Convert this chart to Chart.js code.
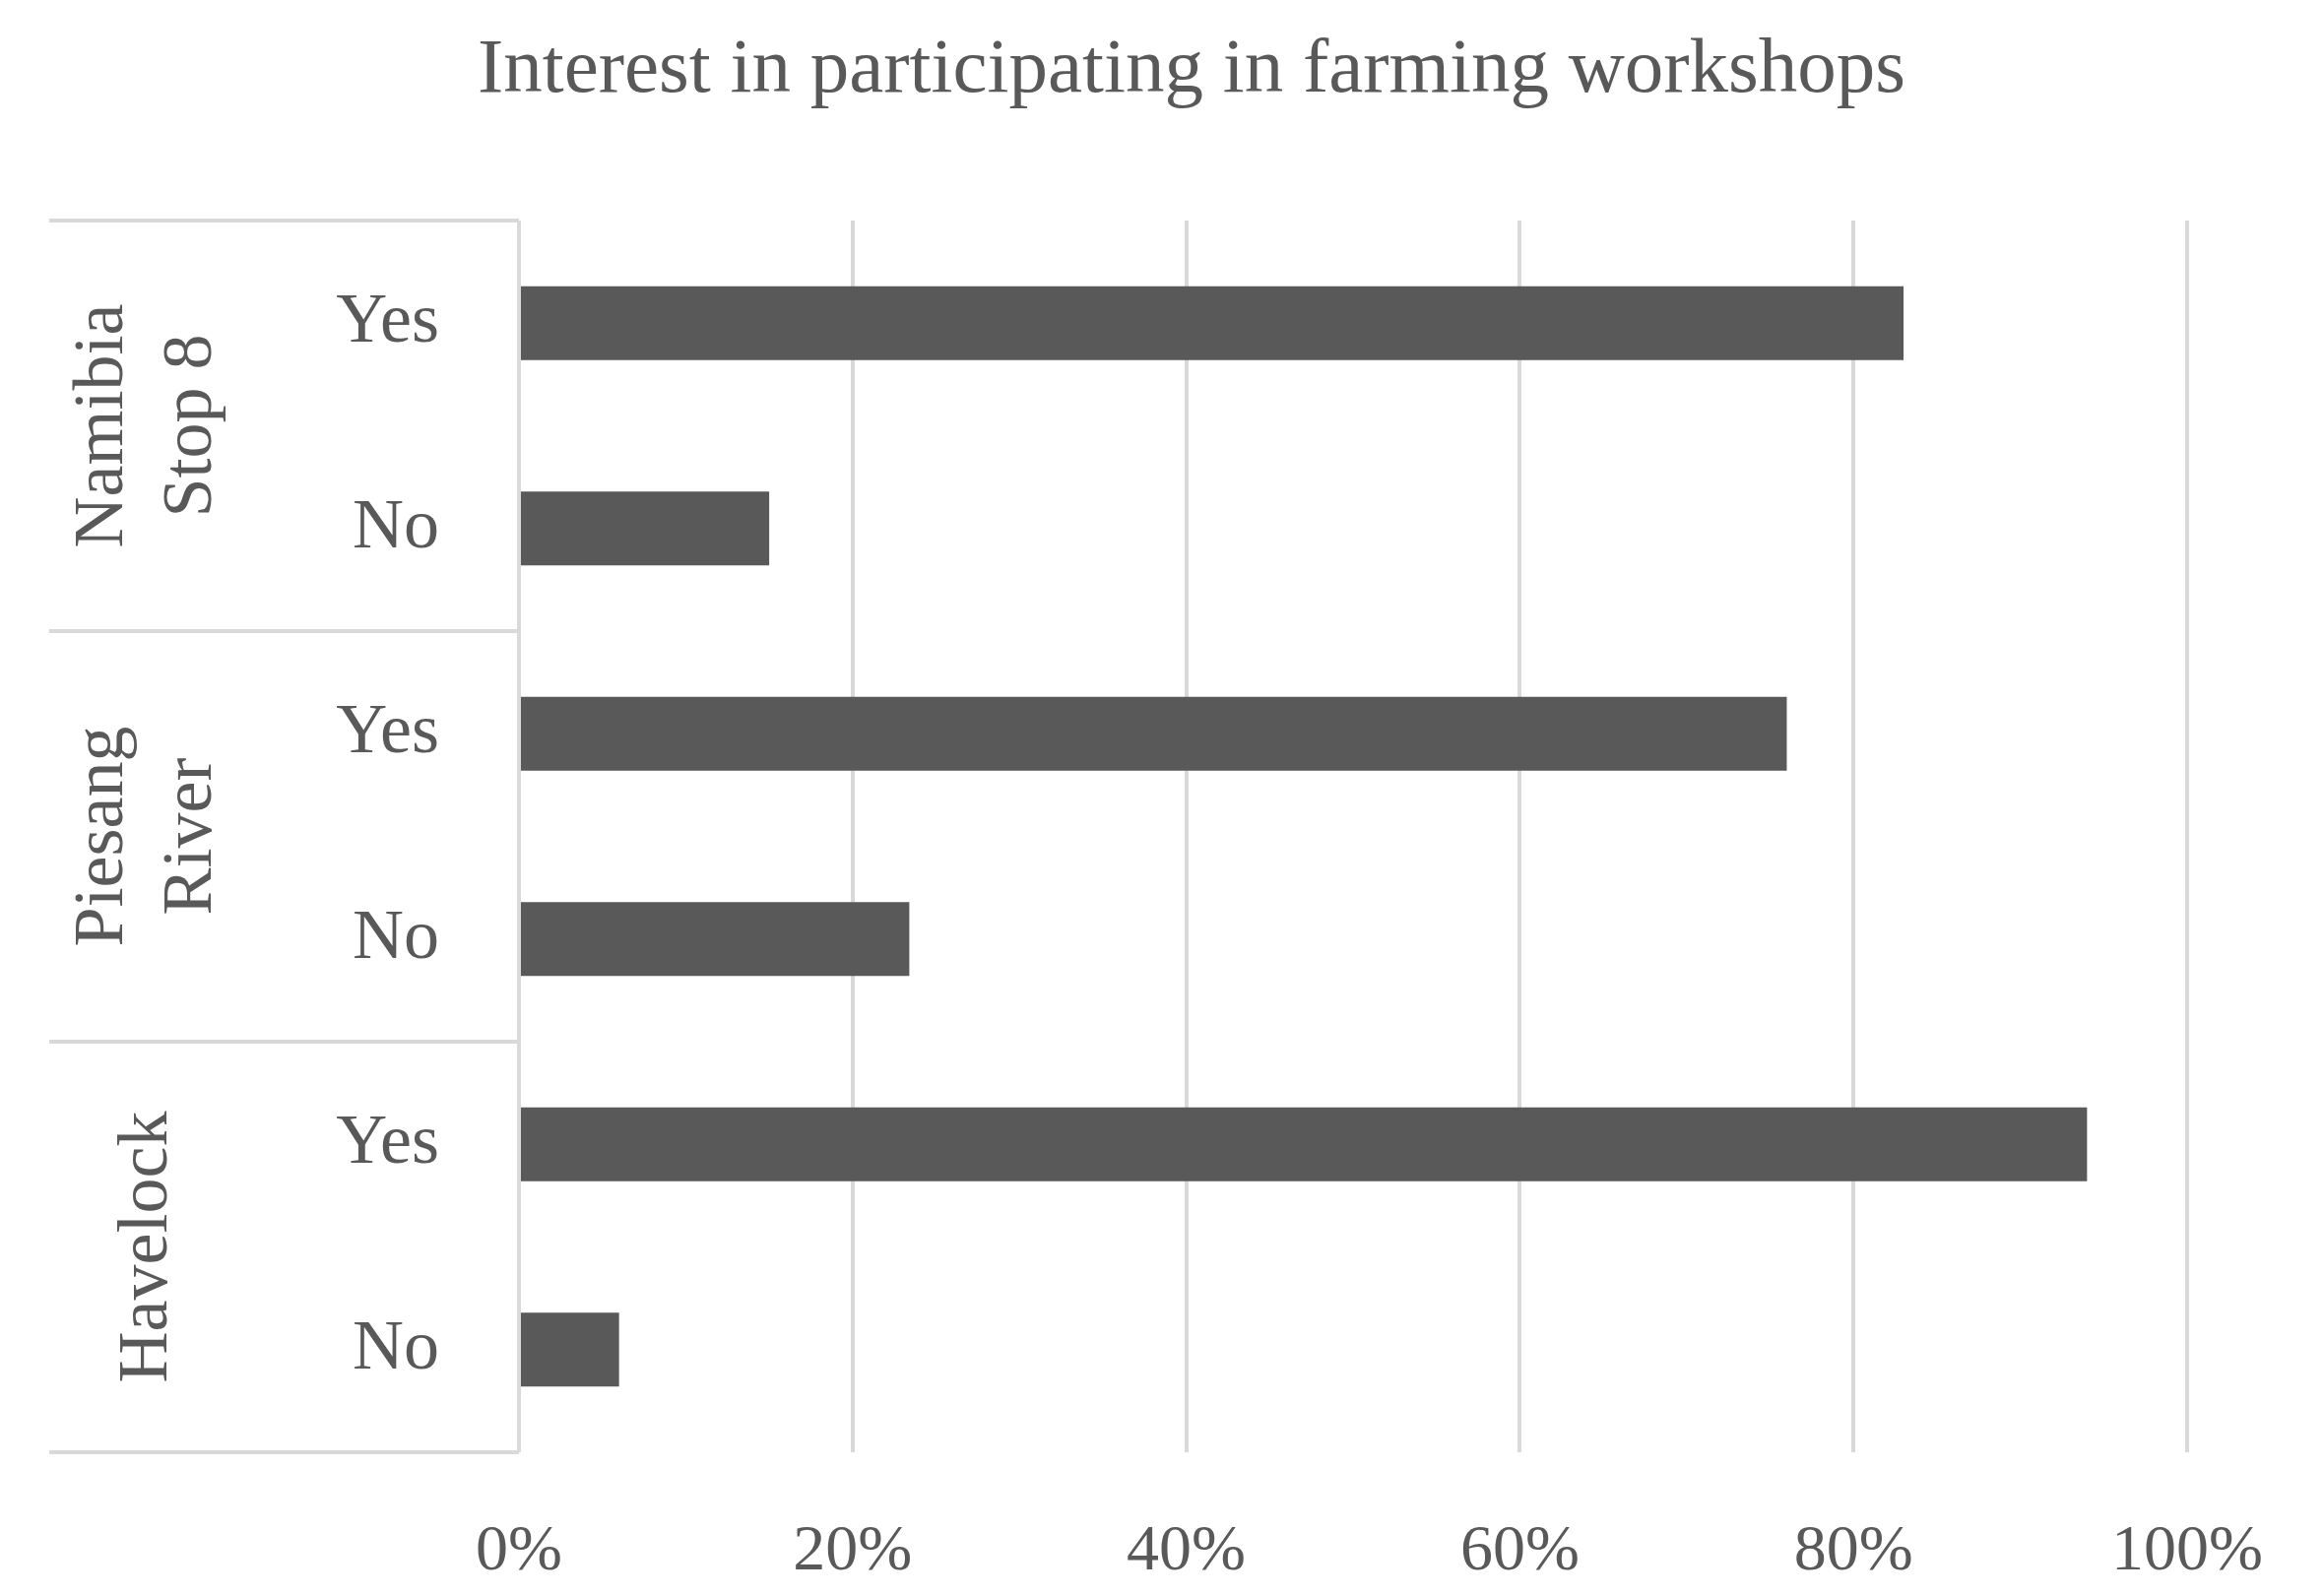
<!DOCTYPE html>
<html>
<head>
<meta charset="utf-8">
<script src="https://cdn.jsdelivr.net/npm/chart.js@4"></script>
<style>
  body { margin: 0; background: #fff; }
  #wrap { width: 2360px; height: 1620px; }
</style>
</head>
<body>
<div id="wrap"><canvas id="chart" width="2360" height="1620"></canvas></div>
<script>
const titleText = "Interest in participating in farming workshops";
const answers = ["Yes", "No", "Yes", "No", "Yes", "No"];
const groups = [["Namibia", "Stop 8"], ["Piesang", "River"], ["Havelock"]];
const values = [83, 15, 76, 23.4, 94, 6];
const xTicks = [0, 20, 40, 60, 80, 100];

const textColor = "#595959";
const gridColor = "#d9d9d9";
const fontFamily = "'Liberation Serif', 'Times New Roman', serif";

// title + hierarchical group labels on the left
const decor = {
  id: "decor",
  afterDraw(chart) {
    const ctx = chart.ctx;
    const y = chart.scales.y;
    const area = chart.chartArea;
    ctx.save();
    ctx.fillStyle = textColor;
    ctx.font = "79px " + fontFamily;
    ctx.textAlign = "center";
    ctx.textBaseline = "middle";
    ctx.fillText(titleText, 1210, 72);

    ctx.strokeStyle = gridColor;
    ctx.lineWidth = 4;
    const left = 50;
    const step = (y.getPixelForValue(1) - y.getPixelForValue(0));
    ctx.beginPath();
    ctx.moveTo(area.left, area.top);
    ctx.lineTo(area.left, area.bottom);
    for (let g = 0; g <= groups.length; g++) {
      const py = g === groups.length ? area.bottom : y.getPixelForValue(g * 2) - step / 2;
      ctx.moveTo(left, py);
      ctx.lineTo(area.left, py);
    }
    ctx.stroke();

    ctx.font = "72px " + fontFamily;
    groups.forEach((lines, g) => {
      const cy = (y.getPixelForValue(g * 2) + y.getPixelForValue(g * 2 + 1)) / 2;
      const cx = 150;
      ctx.save();
      ctx.translate(cx, cy);
      ctx.rotate(-Math.PI / 2);
      const lh = 90;
      lines.forEach((t, i) => {
        ctx.fillText(t, 0, (i - (lines.length - 1) / 2) * lh);
      });
      ctx.restore();
    });
    ctx.restore();
  }
};

new Chart(document.getElementById("chart"), {
  type: "bar",
  data: {
    labels: answers,
    datasets: [{
      data: values,
      backgroundColor: "#595959",
      barPercentage: 0.36,
      categoryPercentage: 1
    }]
  },
  options: {
    indexAxis: "y",
    responsive: false,
    animation: false,
    layout: { padding: { top: 224, right: 108, left: 0, bottom: 0 } },
    plugins: { legend: { display: false }, tooltip: { enabled: false } },
    scales: {
      x: {
        min: 0,
        max: 100,
        afterBuildTicks(axis) { axis.ticks = xTicks.map(v => ({ value: v })); },
        afterFit(axis) { axis.height = 145; },
        grid: { color: gridColor, lineWidth: 4, drawTicks: false },
        border: { display: false },
        ticks: {
          padding: 62,
          color: textColor,
          font: { size: 66, family: fontFamily },
          callback: v => v + "%"
        }
      },
      y: {
        afterFit(axis) { axis.width = 527; },
        grid: { display: false },
        border: { display: false },
        ticks: {
          padding: 73,
          color: textColor,
          font: { size: 72, family: fontFamily }
        }
      }
    }
  },
  plugins: [decor]
});
</script>
</body>
</html>
